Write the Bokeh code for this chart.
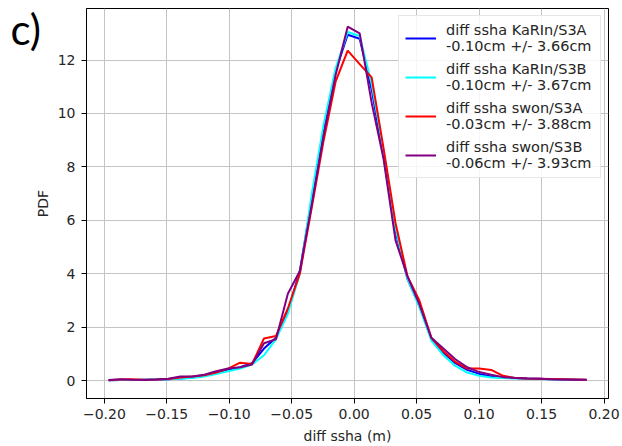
from bokeh.plotting import figure
from bokeh.models import Range1d, FixedTicker, Legend, LegendItem, Label
from bokeh.embed import file_html
from bokeh.resources import INLINE

# bin centres (m) and PDF of each difference
diff_ssha = [-0.1966, -0.1870, -0.1775, -0.1679, -0.1583, -0.1488, -0.1392, -0.1296,
             -0.1200, -0.1105, -0.1009, -0.0913, -0.0818, -0.0722, -0.0626, -0.0531,
             -0.0435, -0.0339, -0.0244, -0.0148, -0.0052, 0.0044, 0.0140, 0.0235,
             0.0331, 0.0427, 0.0522, 0.0618, 0.0714, 0.0810, 0.0905, 0.1001,
             0.1097, 0.1192, 0.1288, 0.1384, 0.1479, 0.1575, 0.1671, 0.1766, 0.1862]

pdf_karin_s3a = [0.01, 0.02, 0.02, 0.03, 0.04, 0.05, 0.08, 0.12, 0.18, 0.30, 0.40,
                 0.50, 0.65, 1.20, 1.60, 2.60, 4.10, 6.80, 9.40, 11.60, 12.95, 12.80,
                 10.90, 8.40, 5.60, 3.80, 2.80, 1.55, 1.05, 0.65, 0.40, 0.25, 0.15,
                 0.12, 0.10, 0.08, 0.07, 0.05, 0.04, 0.03, 0.02]
pdf_karin_s3b = [0.01, 0.02, 0.02, 0.03, 0.04, 0.05, 0.07, 0.10, 0.15, 0.25, 0.35,
                 0.45, 0.60, 0.95, 1.55, 2.50, 4.00, 7.00, 9.60, 11.70, 13.05, 12.90,
                 11.10, 8.60, 5.70, 3.80, 2.75, 1.50, 0.95, 0.55, 0.30, 0.18, 0.12,
                 0.10, 0.08, 0.07, 0.06, 0.05, 0.04, 0.03, 0.02]
pdf_swon_s3a = [0.01, 0.04, 0.05, 0.03, 0.04, 0.06, 0.12, 0.15, 0.20, 0.30, 0.45,
                0.67, 0.62, 1.58, 1.67, 2.70, 4.00, 6.50, 9.00, 11.20, 12.35, 11.85,
                11.35, 8.70, 5.90, 3.90, 3.00, 1.60, 1.10, 0.70, 0.45, 0.45, 0.40,
                0.18, 0.10, 0.08, 0.07, 0.06, 0.05, 0.04, 0.03]
pdf_swon_s3b = [0.02, 0.05, 0.03, 0.02, 0.04, 0.07, 0.15, 0.15, 0.22, 0.35, 0.45,
                0.50, 0.60, 1.40, 1.55, 3.25, 4.10, 6.60, 9.20, 11.45, 13.25, 13.00,
                10.40, 8.30, 5.25, 3.90, 2.85, 1.60, 1.20, 0.80, 0.50, 0.32, 0.22,
                0.13, 0.10, 0.08, 0.07, 0.05, 0.04, 0.03, 0.03]

series_labels = ["diff ssha KaRIn/S3A\n-0.10cm +/- 3.66cm",
                 "diff ssha KaRIn/S3B\n-0.10cm +/- 3.67cm",
                 "diff ssha swon/S3A\n-0.03cm +/- 3.88cm",
                 "diff ssha swon/S3B\n-0.06cm +/- 3.93cm"]
series_colors = ["blue", "cyan", "red", "purple"]

x_ticks = [-0.20, -0.15, -0.10, -0.05, 0.0, 0.05, 0.10, 0.15, 0.20]
y_ticks = [0, 2, 4, 6, 8, 10, 12]

FONT = "DejaVu Sans"
TXT = "#262626"

p = figure(width=622, height=446,
           x_range=Range1d(-0.2143, 0.2036), y_range=Range1d(-0.67, 13.93),
           output_backend="svg", toolbar_location=None,
           min_border_left=85, min_border_right=14, min_border_top=8, min_border_bottom=47)

p.outline_line_color = "black"
p.outline_line_width = 1
p.background_fill_color = "white"

p.xaxis.ticker = FixedTicker(ticks=x_ticks)
p.xaxis.major_label_overrides = {t: ("%.2f" % t).replace("-", "\u2212") for t in x_ticks}
p.yaxis.ticker = FixedTicker(ticks=y_ticks)
p.xaxis.axis_label = "diff ssha (m)"
p.yaxis.axis_label = "PDF"

for ax in (p.xaxis, p.yaxis):
    ax.axis_line_color = "black"
    ax.major_tick_line_color = "black"
    ax.major_tick_in = 0
    ax.major_tick_out = 5
    ax.minor_tick_line_color = None
    ax.major_label_text_font = FONT
    ax.major_label_text_font_size = "14px"
    ax.major_label_text_color = TXT
    ax.axis_label_text_font = FONT
    ax.axis_label_text_font_size = "14px"
    ax.axis_label_text_font_style = "normal"
    ax.axis_label_text_color = TXT
p.xaxis.major_label_standoff = 5
p.xaxis.axis_label_standoff = 6
p.yaxis.major_label_standoff = 6
p.yaxis.axis_label_standoff = 4

p.grid.grid_line_color = "#c4c4c4"
p.grid.grid_line_width = 1

items = []
for ys, lab, col in zip([pdf_karin_s3a, pdf_karin_s3b, pdf_swon_s3a, pdf_swon_s3b],
                        series_labels, series_colors):
    r = p.line(diff_ssha, ys, line_color=col, line_width=2)
    items.append(LegendItem(label=lab, renderers=[r]))

legend = Legend(items=items, location="top_right")
legend.label_text_font = FONT
legend.label_text_font_size = "14.5px"
legend.label_text_color = TXT
legend.label_text_line_height = 1.1
legend.glyph_width = 31
legend.glyph_height = 20
legend.label_standoff = 10
legend.label_width = 148
legend.spacing = 7
legend.padding = 6
legend.margin = 7
legend.border_line_color = "#d0d0d0"
legend.border_line_width = 1
legend.background_fill_alpha = 0.85
p.add_layout(legend)

# panel tag: lives in its own side panel left of the y axis
# (annotations in the centre are clipped to the frame)
panel_tag = Label(x=10, y=395, x_units="screen", y_units="screen", text="c)",
                  text_font="Lato", text_font_size="42px", text_color="black",
                  text_baseline="top")
p.add_layout(panel_tag, "left")

open("out.html", "w").write(file_html(p, INLINE))
